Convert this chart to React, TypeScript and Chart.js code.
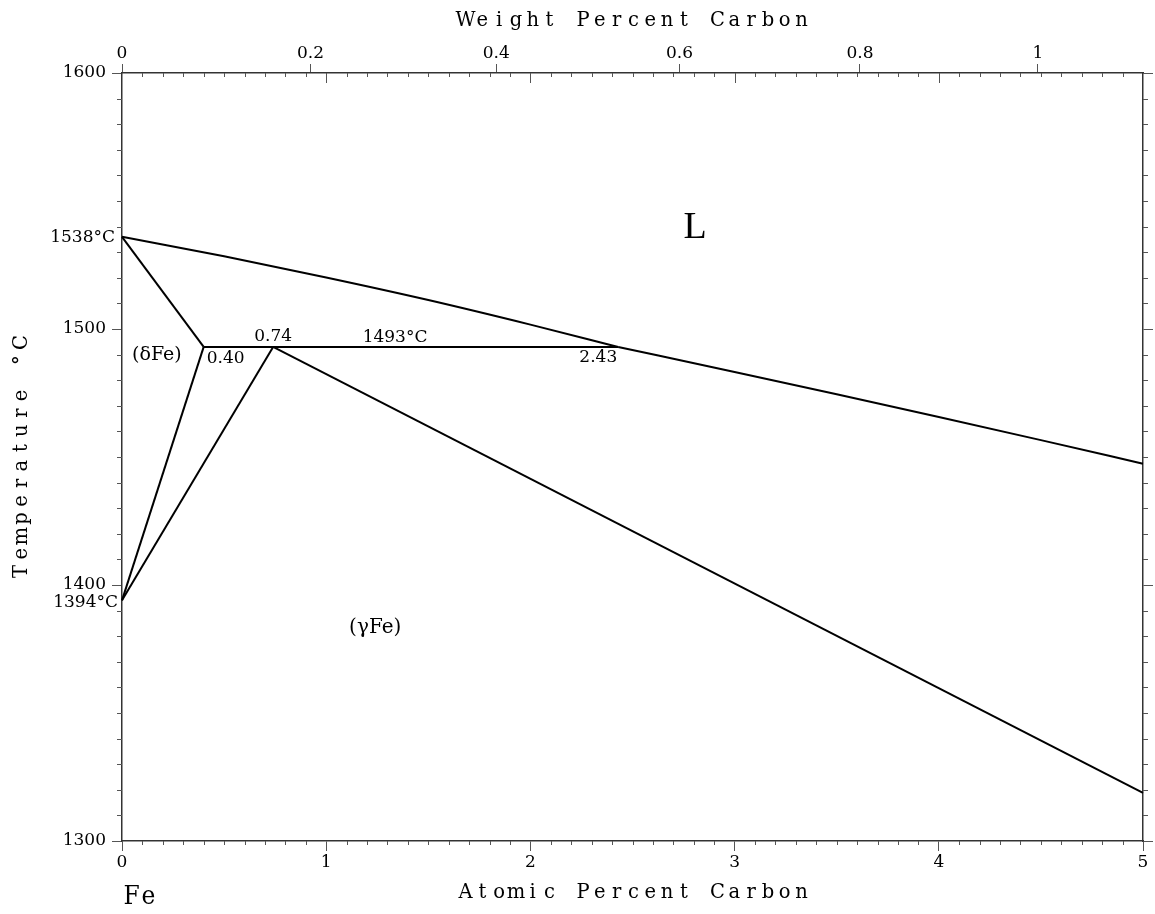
import React, { useEffect, useRef } from 'react';
import { Chart, registerables } from 'chart.js';

Chart.register(...registerables);

// ---- Data (atomic % C, temperature °C) ----
const deltaLiquidusX = [0, 0.5, 1.0, 1.5, 2.0, 2.43];
const deltaLiquidusT = [1536, 1528.4, 1520.1, 1511.3, 1501.7, 1493];
const gammaLiquidusX = [2.43, 3.0, 3.5, 4.0, 4.5, 5.0];
const gammaLiquidusT = [1493, 1483.2, 1474.5, 1465.6, 1456.6, 1447.4];
const deltaSolidusX = [0, 0.4];
const deltaSolidusT = [1536, 1493];
const deltaSolvusX = [0.4, 0];
const deltaSolvusT = [1493, 1394];
const gammaSolvusX = [0, 0.74];
const gammaSolvusT = [1394, 1493];
const peritecticX = [0.4, 2.43];
const peritecticT = [1493, 1493];
const gammaSolidusX = [0.74, 5];
const gammaSolidusT = [1493, 1318.8];

// ---- Axes ----
const atomicTicks = [0, 1, 2, 3, 4, 5];
const atomicMinorStep = 0.1;
const tempTicks = [1300, 1400, 1500, 1600];
const tempMinorStep = 10;
const weightTickValues = [0, 0.2, 0.4, 0.6, 0.8, 1.0];
const weightTickLabels = ['0', '0.2', '0.4', '0.6', '0.8', '1'];

const M_C = 12.011;
const M_FE = 55.845;
const wtToAt = (w: number) => {
  const c = w / M_C;
  const f = (100 - w) / M_FE;
  return (c / (c + f)) * 100;
};

const SERIF = '"DejaVu Serif", serif';

type Ann = { text: string; x: number; y: number; align: CanvasTextAlign; dx: number; dy: number; font: string };
const annotations: Ann[] = [
  { text: '1538°C', x: 0, y: 1536, align: 'right', dx: -7, dy: 0.5, font: `17px ${SERIF}` },
  { text: '1394°C', x: 0, y: 1394, align: 'right', dx: -4, dy: 2, font: `17px ${SERIF}` },
  { text: '(δFe)', x: 0.171, y: 1490, align: 'center', dx: 0, dy: 0, font: `19px ${SERIF}` },
  { text: '0.40', x: 0.4, y: 1493, align: 'left', dx: 3, dy: 12, font: `17px ${SERIF}` },
  { text: '0.74', x: 0.74, y: 1493, align: 'center', dx: 0, dy: -10, font: `17px ${SERIF}` },
  { text: '1493°C', x: 1.337, y: 1493, align: 'center', dx: 0, dy: -9, font: `17px ${SERIF}` },
  { text: '2.43', x: 2.43, y: 1493, align: 'right', dx: -1, dy: 11, font: `17px ${SERIF}` },
  { text: 'L', x: 2.806, y: 1539.5, align: 'center', dx: 0, dy: 0, font: `38px "Liberation Serif", serif` },
  { text: '(γFe)', x: 1.24, y: 1383.3, align: 'center', dx: 0, dy: 0, font: `20px ${SERIF}` },
];

const xTitle = 'Atomic Percent Carbon';
const x2Title = 'Weight Percent Carbon';
const yTitle = 'Temperature °C';
const feLabel = 'Fe';

const mk = (xs: number[], ts: number[]) => xs.map((x, i) => ({ x, y: ts[i] }));

// draw a string in fixed-width cells (typewriter-like), each glyph slightly condensed
const drawMono = (ctx: CanvasRenderingContext2D, text: string, x0: number, cy: number, cell: number, font: string, sx: number) => {
  ctx.font = font;
  ctx.textAlign = 'center';
  ctx.textBaseline = 'middle';
  for (let i = 0; i < text.length; i++) {
    const ch = text[i];
    if (ch === ' ') continue;
    ctx.save();
    ctx.translate(x0 + cell * (i + 0.5), cy);
    ctx.scale(sx, 1);
    ctx.fillText(ch, 0, 0);
    ctx.restore();
  }
};

const decorPlugin = {
  id: 'decor',
  afterDraw(chart: any) {
    const { ctx, chartArea } = chart;
    const xs = chart.scales.x;
    const ys = chart.scales.y;
    const { left, right, top, bottom } = chartArea;
    ctx.save();
    // minor ticks
    ctx.strokeStyle = '#555';
    ctx.lineWidth = 1;
    ctx.beginPath();
    for (let t = 1300; t <= 1600 + 0.001; t += tempMinorStep) {
      if (Math.abs(t % 100) < 0.001) continue;
      const py = Math.round(ys.getPixelForValue(t)) + 0.5;
      ctx.moveTo(left - 5, py);
      ctx.lineTo(left, py);
      ctx.moveTo(right, py);
      ctx.lineTo(right + 5, py);
    }
    for (let i = 1; i < 50; i++) {
      const a = i * atomicMinorStep;
      const px = Math.round(xs.getPixelForValue(a)) + 0.5;
      if (i % 10 === 0) {
        ctx.moveTo(px, top);
        ctx.lineTo(px, top + 10);
      } else {
        ctx.moveTo(px, top);
        ctx.lineTo(px, top + 4);
        ctx.moveTo(px, bottom);
        ctx.lineTo(px, bottom + 4);
      }
    }
    ctx.stroke();

    // annotations
    ctx.fillStyle = '#000';
    ctx.textBaseline = 'middle';
    annotations.forEach((a) => {
      ctx.font = a.font;
      ctx.textAlign = a.align;
      const px = xs.getPixelForValue(a.x) + a.dx;
      const py = ys.getPixelForValue(a.y) + a.dy;
      ctx.fillText(a.text, px, py);
    });

    // axis titles (typewriter style)
    const titleFont = `21px ${SERIF}`;
    const sx = 0.93;
    const cell = 16.8;
    const cx = (left + right) / 2 + 1;
    drawMono(ctx, x2Title, cx - (x2Title.length * cell) / 2, top - 52, cell, titleFont, sx);
    drawMono(ctx, xTitle, cx - (xTitle.length * cell) / 2, bottom + 52, cell, titleFont, sx);
    drawMono(ctx, feLabel, left + 1, bottom + 56, 17, `26px ${SERIF}`, 0.9);
    ctx.save();
    ctx.translate(left - 100, (top + bottom) / 2);
    ctx.rotate(-Math.PI / 2);
    const ycell = 17.6;
    drawMono(ctx, yTitle, -(yTitle.length * ycell) / 2, 0, ycell, titleFont, sx);
    ctx.restore();
    ctx.restore();
  },
};

export default function App() {
  const ref = useRef<HTMLCanvasElement>(null);
  useEffect(() => {
    if (!ref.current) return;
    const lineDs = (data: any[], mono = false) => ({
      data,
      showLine: true,
      borderColor: '#000',
      borderWidth: 2,
      pointRadius: 0,
      fill: false,
      clip: false,
      cubicInterpolationMode: mono ? 'monotone' : 'default',
    });
    const tickFont = { family: SERIF, size: 17 };
    const chart = new Chart(ref.current, {
      type: 'scatter',
      data: {
        datasets: [
          lineDs(mk(deltaLiquidusX, deltaLiquidusT), true),
          lineDs(mk(gammaLiquidusX, gammaLiquidusT), true),
          lineDs(mk(deltaSolidusX, deltaSolidusT)),
          lineDs(mk(deltaSolvusX, deltaSolvusT)),
          lineDs(mk(gammaSolvusX, gammaSolvusT)),
          lineDs(mk(peritecticX, peritecticT)),
          lineDs(mk(gammaSolidusX, gammaSolidusT)),
        ] as any,
      },
      options: {
        responsive: false,
        animation: false,
        events: [],
        layout: { padding: 0 },
        plugins: { legend: { display: false }, tooltip: { enabled: false } },
        scales: {
          x: {
            type: 'linear',
            position: 'bottom',
            min: 0,
            max: 5,
            afterFit: (s: any) => { s.height = 73; },
            afterBuildTicks: (s: any) => { s.ticks = atomicTicks.map((v) => ({ value: v })); },
            ticks: { autoSkip: false, maxRotation: 0, padding: 1, color: '#000', font: tickFont, callback: (v: any) => String(v) },
            grid: { drawOnChartArea: false, drawTicks: true, tickLength: 10, color: '#555', lineWidth: 1 },
            border: { display: true, color: '#333', width: 1.5 },
          },
          x2: {
            type: 'linear',
            position: 'top',
            min: 0,
            max: 5,
            afterFit: (s: any) => { s.height = 73; },
            afterBuildTicks: (s: any) => { s.ticks = weightTickValues.map((w) => ({ value: wtToAt(w) })); },
            ticks: { autoSkip: false, maxRotation: 0, padding: 0, color: '#000', font: tickFont, callback: (_v: any, i: number) => weightTickLabels[i] },
            grid: { drawOnChartArea: false, drawTicks: true, tickLength: 9, color: '#555', lineWidth: 1 },
            border: { display: true, color: '#333', width: 1.5 },
          },
          y: {
            type: 'linear',
            position: 'left',
            min: 1300,
            max: 1600,
            afterFit: (s: any) => { s.width = 122; },
            afterBuildTicks: (s: any) => { s.ticks = tempTicks.map((v) => ({ value: v })); },
            ticks: { autoSkip: false, padding: 6, color: '#000', font: tickFont, callback: (v: any) => String(v) },
            grid: { drawOnChartArea: false, drawTicks: true, tickLength: 10, color: '#555', lineWidth: 1 },
            border: { display: true, color: '#333', width: 1.5 },
          },
          y2: {
            type: 'linear',
            position: 'right',
            min: 1300,
            max: 1600,
            afterFit: (s: any) => { s.width = 12; },
            afterBuildTicks: (s: any) => { s.ticks = tempTicks.map((v) => ({ value: v })); },
            ticks: { display: false },
            grid: { drawOnChartArea: false, drawTicks: true, tickLength: 10, color: '#555', lineWidth: 1 },
            border: { display: true, color: '#333', width: 1.5 },
          },
        },
      } as any,
      plugins: [decorPlugin],
    });
    return () => chart.destroy();
  }, []);
  return (
    <div style={{ position: 'absolute', left: 0, top: 0, width: 1155, height: 914, background: '#fff' }}>
      <canvas ref={ref} width={1155} height={914} style={{ width: 1155, height: 914, display: 'block' }} />
    </div>
  );
}
